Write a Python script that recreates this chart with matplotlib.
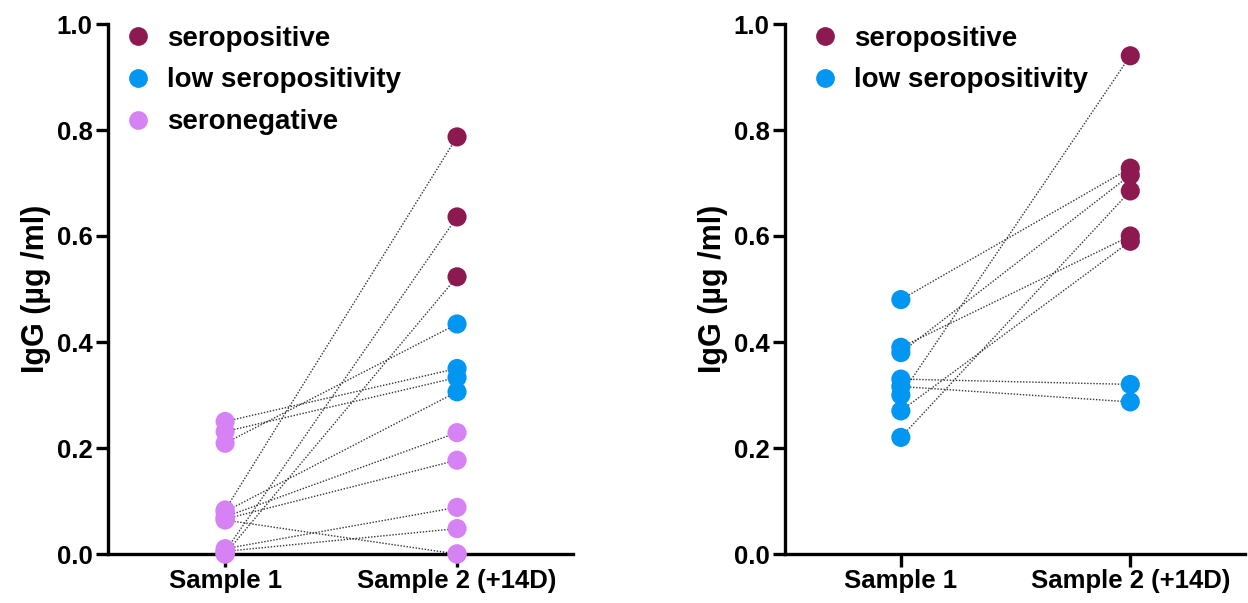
import numpy as np
import matplotlib
matplotlib.use("Agg")
import matplotlib.pyplot as plt
from matplotlib.lines import Line2D

plt.rcParams['font.family'] = ['Liberation Sans', 'DejaVu Sans']
plt.rcParams['font.weight'] = 'bold'

# colours per group
colors = {'pos': '#8c1a50', 'low': '#0096f2', 'neg': '#d682f4'}
labels = {'pos': 'seropositive', 'low': 'low seropositivity', 'neg': 'seronegative'}

xticklabels = ['Sample 1', 'Sample 2 (+14D)']

# left panel: paired values (sample 1 -> sample 2)
left_s1 = [0.083, 0.005, 0.0, 0.209, 0.250, 0.231, 0.080, 0.070, 0.066, 0.010, 0.005, 0.064, 0.0]
left_s2 = [0.787, 0.636, 0.523, 0.434, 0.350, 0.333, 0.306, 0.229, 0.177, 0.088, 0.048, 0.0, 0.0]
left_grp1 = ['neg'] * 13
left_grp2 = ['pos', 'pos', 'pos', 'low', 'low', 'low', 'low',
             'neg', 'neg', 'neg', 'neg', 'neg', 'neg']

# right panel
right_s1 = [0.48, 0.38, 0.22, 0.39, 0.27, 0.30, 0.33, 0.316]
right_s2 = [0.728, 0.715, 0.685, 0.60, 0.59, 0.94, 0.32, 0.287]
right_grp1 = ['low'] * 8
right_grp2 = ['pos', 'pos', 'pos', 'pos', 'pos', 'pos', 'low', 'low']

fig = plt.figure(figsize=(12.48, 6.03), dpi=100)
ax1 = fig.add_axes([108 / 1248, 49 / 603, 465 / 1248, 530 / 603])
ax2 = fig.add_axes([785 / 1248, 49 / 603, 460 / 1248, 530 / 603])


def draw(ax, s1, s2, g1, g2, legend_keys, leg_x):
    for a, b in zip(s1, s2):
        ax.plot([0, 1], [a, b], ls=(0, (1, 1.2)), lw=1.0, color='#333333', zorder=2, clip_on=False)
    ax.scatter(np.zeros(len(s1)), s1, s=190, c=[colors[g] for g in g1], zorder=3,
               linewidths=0, clip_on=False)
    ax.scatter(np.ones(len(s2)), s2, s=190, c=[colors[g] for g in g2], zorder=3,
               linewidths=0, clip_on=False)
    ax.set_xlim(-0.505, 1.5)
    ax.set_ylim(0, 1.0)
    ax.set_xticks([0, 1])
    ax.set_xticklabels(xticklabels)
    ax.set_yticks(np.arange(0, 1.01, 0.2))
    ax.set_yticklabels(['%.1f' % v for v in np.arange(0, 1.01, 0.2)])
    for s in ['top', 'right']:
        ax.spines[s].set_visible(False)
    for s in ['left', 'bottom']:
        ax.spines[s].set_linewidth(2.4)
    ax.tick_params(width=2.4, length=9, labelsize=18.5, pad=2)
    ax.set_ylabel('IgG (µg /ml)', fontsize=22, fontweight='bold', labelpad=4)
    handles = [Line2D([], [], ls='', marker='o', ms=13.5, mec='none', color=colors[k],
                      label=labels[k]) for k in legend_keys]
    ax.legend(handles=handles, loc='upper left', bbox_to_anchor=(leg_x, 0.997),
              frameon=False, fontsize=20, labelspacing=0.57, handletextpad=0.47,
              handlelength=1.2, borderaxespad=0, borderpad=0)


draw(ax1, left_s1, left_s2, left_grp1, left_grp2, ['pos', 'low', 'neg'], 0.028)
draw(ax2, right_s1, right_s2, right_grp1, right_grp2, ['pos', 'low'], 0.05)

fig.savefig('out.png', dpi=100)
